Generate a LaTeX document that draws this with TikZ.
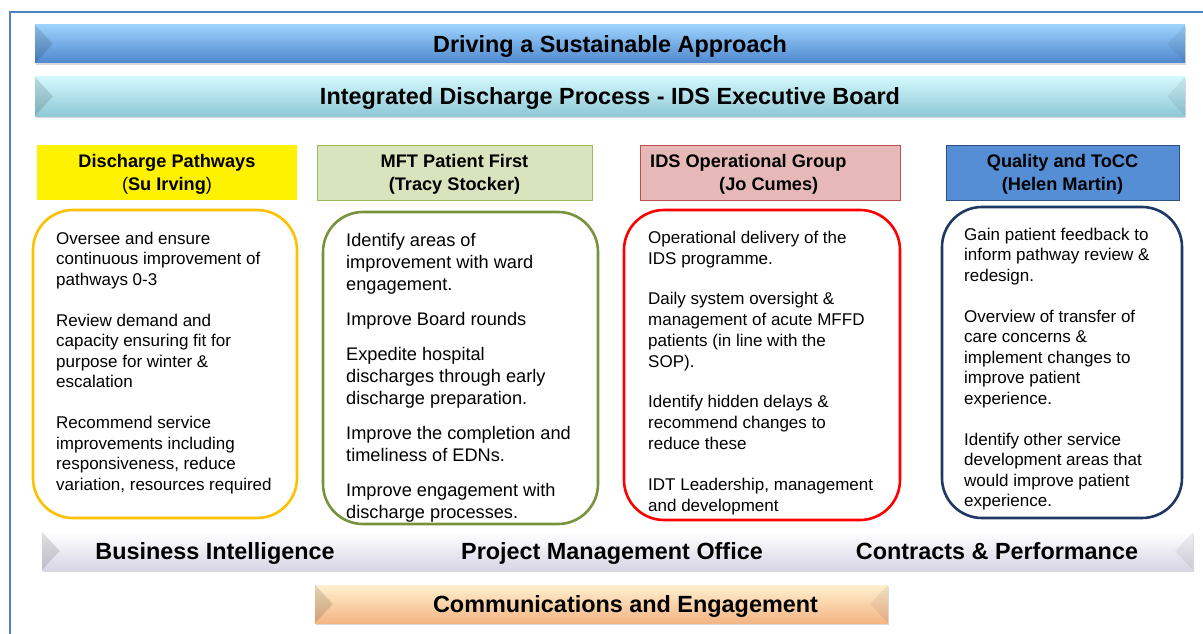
\documentclass[tikz,border=0pt]{standalone}
\usepackage{fontspec}
\setmainfont{Liberation Sans}
\usetikzlibrary{calc, shadows}

% colours
\definecolor{framecol}{HTML}{4F81BD}
\definecolor{titletop}{HTML}{9CD2FB}
\definecolor{titlemid}{HTML}{5C93D8}
\definecolor{titlebot}{HTML}{4F87CF}
\definecolor{boardtop}{HTML}{D2F8FC}
\definecolor{boardmid}{HTML}{98CFDC}
\definecolor{boardbot}{HTML}{8FC8D7}
\definecolor{supporttop}{HTML}{FFFFFF}
\definecolor{supportbot}{HTML}{D8D5E5}
\definecolor{commtop}{HTML}{FFF0CF}
\definecolor{commbot}{HTML}{F4B584}
\definecolor{greenhead}{HTML}{D7E4BD}
\definecolor{greenedge}{HTML}{9BBB59}
\definecolor{pinkhead}{HTML}{E6B9B8}
\definecolor{pinkedge}{HTML}{C0504D}
\definecolor{bluehead}{HTML}{558ED5}
\definecolor{blueedge}{HTML}{2C5282}
\definecolor{orangeline}{HTML}{FFC000}
\definecolor{greenline}{HTML}{77933C}
\definecolor{redline}{HTML}{FF0000}
\definecolor{navyline}{HTML}{1F3864}

\tikzset{
  banner/.style={inner sep=0pt, minimum height=38pt, text height=17pt, text depth=0pt,
    font=\bfseries\fontsize{23.4}{28}\selectfont,
    drop shadow={shadow xshift=1pt, shadow yshift=-2pt, opacity=0.3}},
  barlabel/.style={inner sep=0pt, text height=17pt, text depth=0pt,
    font=\bfseries\fontsize{23.4}{28}\selectfont},
  head/.style={minimum height=55pt, inner sep=0pt, align=center, text depth=0pt,
    font=\bfseries\fontsize{18.2}{23}\selectfont},
  panel/.style={draw=#1, line width=2.6pt, rounded corners=40pt, fill=white},
  paneltext/.style={anchor=north west, inner sep=0pt, align=left,
    font=\fontsize{17}{20.5}\selectfont}
}

\begin{document}
\begin{tikzpicture}[x=1pt, y=-1pt]
  \useasboundingbox (0,0) rectangle (1203,634);

  % outer frame
  \draw[framecol, line width=1.5pt] (10,634) -- (10,12) -- (1203,12);

  % top banners
  \node[banner, top color=titletop, middle color=titlemid, bottom color=titlebot,
    minimum width=1150pt] (title) at (610,44) {Driving a Sustainable Approach};
  \node[banner, top color=boardtop, middle color=boardmid, bottom color=boardbot,
    minimum width=1150pt, minimum height=39pt] (board) at (610,96.5)
    {Integrated Discharge Process - IDS Executive Board};

  % workstream headings
  \node[head, fill=yellow, minimum width=260pt] (h1) at (167,172.5)
    {Discharge Pathways\\{\mdseries(}Su Irving{\mdseries)}};
  \node[head, fill=greenhead, draw=greenedge, minimum width=275pt] (h2) at (454.5,172.5)
    {MFT Patient First\\(Tracy Stocker)};
  \node[head, fill=pinkhead, draw=pinkedge, minimum width=260pt] (h3) at (770,172.5) {};
  \node[head, align=left, anchor=west] (h3text) at (650,172.5)
    {IDS Operational Group\\\hspace*{69pt}(Jo Cumes)};
  \node[head, fill=bluehead, draw=blueedge, minimum width=233pt] (h4) at (1062.5,172.5)
    {Quality and ToCC\\(Helen Martin)};

  % remit panels
  \node[panel=orangeline, minimum width=264pt, minimum height=308pt] (p1) at (165,364) {};
  \node[panel=greenline, minimum width=275pt, minimum height=312pt] (p2) at (460.5,368) {};
  \node[panel=redline, minimum width=276pt, minimum height=310pt] (p3) at (762,365) {};
  \node[panel=navyline, minimum width=240pt, minimum height=311pt] (p4) at (1062,362.5) {};

  % panel texts
  \node[paneltext] (t1) at (56,231.5)
    {Oversee and ensure\\continuous improvement of\\pathways 0-3\\[20.5pt]
     Review demand and\\capacity ensuring fit for\\purpose for winter \&\\escalation\\[20.5pt]
     Recommend service\\improvements including\\responsiveness, reduce\\variation, resources required};
  \node[paneltext, font=\fontsize{18.2}{22}\selectfont] (t2) at (346,233.5)
    {Identify areas of\\improvement with ward\\engagement.\\[13pt]
     Improve Board rounds\\[13pt]
     Expedite hospital\\discharges through early\\discharge preparation.\\[13pt]
     Improve the completion and\\timeliness of EDNs.\\[13pt]
     Improve engagement with\\discharge processes.};
  \node[paneltext, font=\fontsize{17}{20.9}\selectfont] (t3) at (648,231)
    {Operational delivery of the\\IDS programme.\\[19.5pt]
     Daily system oversight \&\\management of acute MFFD\\patients (in line with the\\SOP).\\[19.5pt]
     Identify hidden delays \&\\recommend changes to\\reduce these\\[19.5pt]
     IDT Leadership, management\\and development};
  \node[paneltext] (t4) at (964,227.5)
    {Gain patient feedback to\\inform pathway review \&\\redesign.\\[20.5pt]
     Overview of transfer of\\care concerns \&\\implement changes to\\improve patient\\experience.\\[20.5pt]
     Identify other service\\development areas that\\would improve patient\\experience.};

  % support functions bar
  \node[banner, top color=supporttop, bottom color=supportbot,
    minimum width=1151pt] (support) at (617.5,551) {};
  \node[barlabel] (bi) at (215,551) {Business Intelligence};
  \node[barlabel] (pmo) at (612,551) {Project Management Office};
  \node[barlabel] (cp) at (997,551) {Contracts \& Performance};

  % communications bar
  \node[banner, top color=commtop, bottom color=commbot,
    minimum width=573pt] (comms) at (601.5,604) {};
  \node[barlabel] (ce) at (625.5,604) {Communications and Engagement};

  % bevelled ends of the bars
  \foreach \b in {title, board, support, comms} {
    \fill[black, opacity=0.12] (\b.north west) -- ($(\b.west)+(18,0)$)
      -- (\b.south west) -- cycle;
    \fill[black, opacity=0.06] (\b.north east) -- ($(\b.east)+(-18,0)$)
      -- (\b.south east) -- cycle;
  }

\end{tikzpicture}
\end{document}
